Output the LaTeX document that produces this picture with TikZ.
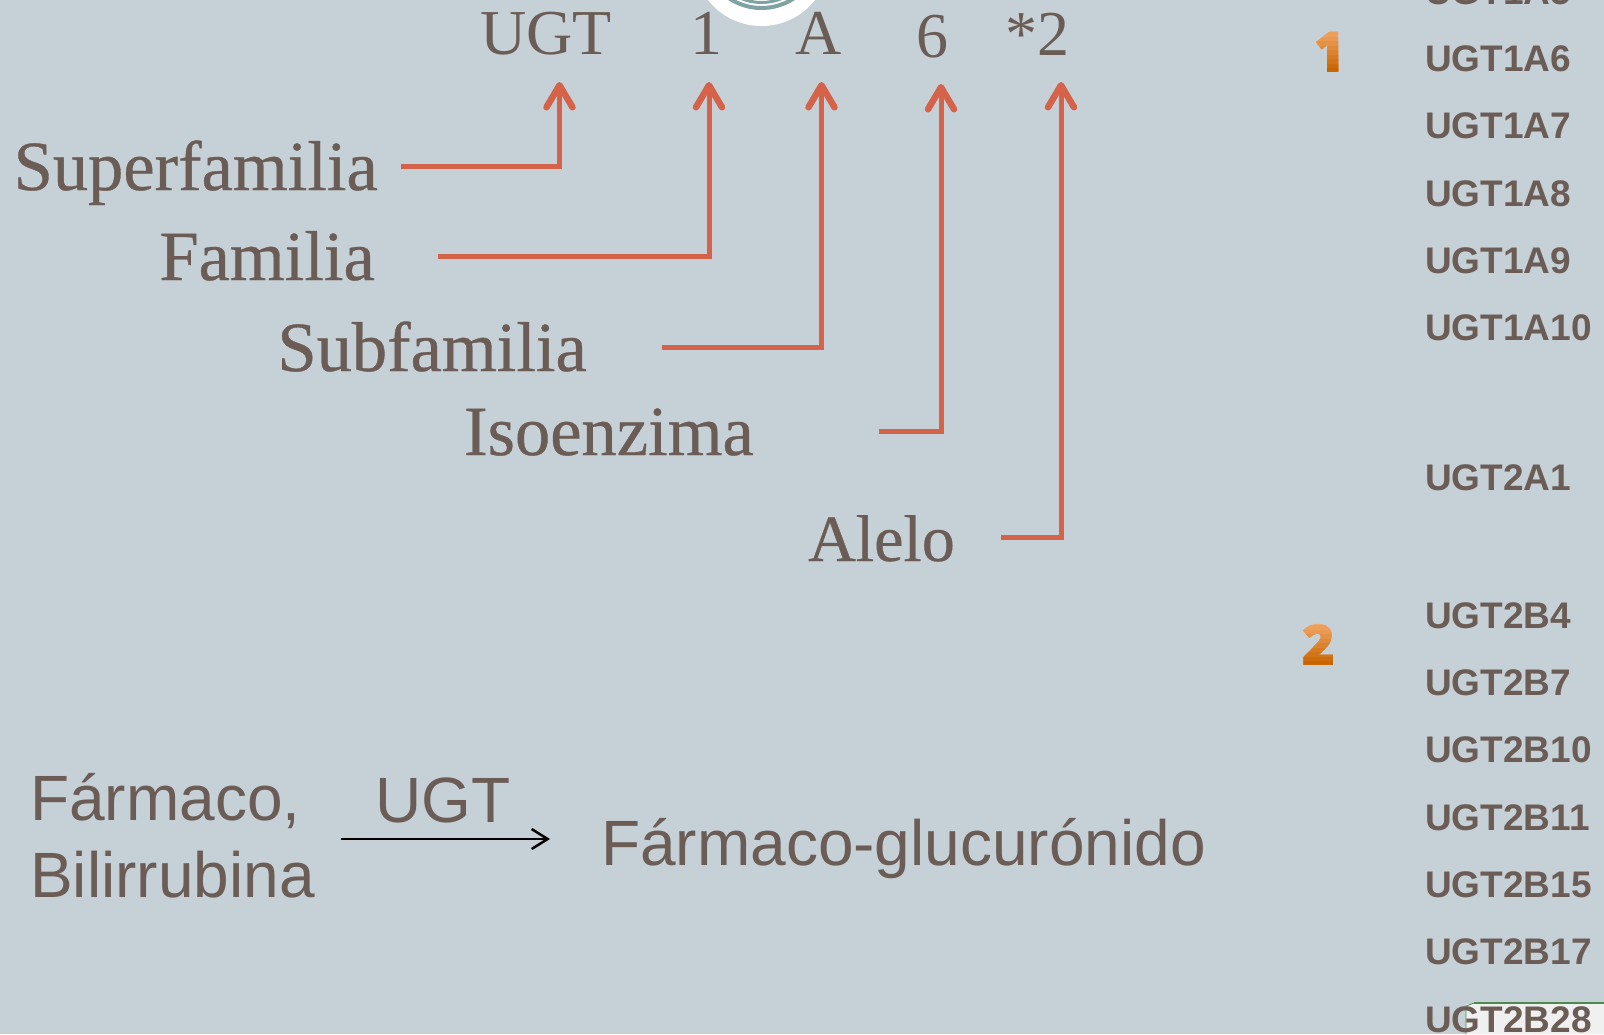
\documentclass[tikz,border=0pt]{standalone}
\usepackage{fontspec}
\setmainfont{Liberation Serif}
\setsansfont{Liberation Sans}
\newfontfamily\levelfont[FakeBold=0.5]{Liberation Serif}
\newfontfamily\digitfont[FakeBold=6]{Open Sans Bold}
\usetikzlibrary{arrows.meta}
\definecolor{panelbg}{HTML}{C5D0D7}
\definecolor{inkbrown}{HTML}{6B5D55}
\definecolor{linkred}{HTML}{D4634A}
\definecolor{logoteal}{HTML}{7FA3A3}
\definecolor{digittop}{HTML}{F2A868}
\definecolor{digitlow}{HTML}{C86400}
\def\rowx{1425}

\tikzset{
  token/.style={anchor=base,inner sep=0pt,text=inkbrown,font=\fontsize{64}{64}\selectfont},
  level/.style={anchor=east,inner sep=0pt,text height=48pt,text depth=0pt,text=inkbrown,font=\levelfont\fontsize{70.5}{70.5}\selectfont},
  link/.style={draw=linkred,line width=5pt,-{Straight Barb[length=22pt,width=26pt,round,line width=6.5pt]}},
  isoform/.style={anchor=base west,inner sep=0pt,text=inkbrown,font=\sffamily\bfseries\fontsize{37}{37}\selectfont},
  reaction/.style={inner sep=0pt,text=inkbrown,font=\sffamily\fontsize{64}{77}\selectfont},
  wordart/.style={anchor=base,inner sep=0pt,font=\digitfont\fontsize{52}{52}\selectfont},
}

\begin{document}
\begin{tikzpicture}[x=1pt,y=-1pt]
\useasboundingbox (0,0) rectangle (1604,1034);
\clip (0,0) rectangle (1604,1034);
\fill[panelbg] (0,0) rectangle (1604,1034);

%logo cut by the top edge
\fill[white] (761.5,-42) circle [radius=68];
\draw[logoteal,line width=4pt] (761.5,-51) circle [radius=59];
\draw[logoteal,line width=3pt] (761.5,-51) circle [radius=53.5];

%pale sheet in the corner
\fill[black!6] (1466,1034) |- (1475,1004) -- (1475,1002) -- (1604,1002) -- (1604,1034) -- cycle;
\draw[green!35!black!70!white,line width=0.8pt] (1466,1034) -- (1466,1006) -- (1474,1003);
\draw[green!35!black!70!white,line width=2.5pt] (1474,1003) -- (1604,1003);

%the name, piece by piece
\node[token] (ugt) at (546,54) {UGT};
\node[token] (one) at (706,54) {1};
\node[token] (subA) at (818.5,54) {A};
\node[token] (six) at (932,57) {6};
\node[token] (allele) at (1037,55.5) {*2};

\coordinate (ugttip) at (559.5,82);
\coordinate (onetip) at (709,82);
\coordinate (subAtip) at (821.5,82);
\coordinate (sixtip) at (941,84);
\coordinate (alleletip) at (1061,82);

%what each piece means
\node[level] (superfamilia) at (378,166) {Superfamilia};
\node[level] (familia) at (375,256) {Familia};
\node[level] (subfamilia) at (587,347) {Subfamilia};
\node[level] (isoenzima) at (754,431) {Isoenzima};
\node[level,font=\levelfont\fontsize{66}{66}\selectfont] (alelo) at (955,537) {Alelo};

\draw[link,shorten <=23pt] (superfamilia.east) -| (ugttip);
\draw[link,shorten <=63pt] (familia.east) -| (onetip);
\draw[link,shorten <=75pt] (subfamilia.east) -| (subAtip);
\draw[link,shorten <=125pt] (isoenzima.east) -| (sixtip);
\draw[link,shorten <=46pt] (alelo.east) -| (alleletip);

%right column
\foreach \y/\t in {4/UGT1A5,71/UGT1A6,138/UGT1A7,206/UGT1A8,273/UGT1A9,340/UGT1A10,490/UGT2A1,628/UGT2B4,695/UGT2B7,762/UGT2B10,830/UGT2B11,897/UGT2B15,964/UGT2B17,1032/UGT2B28}{
    \node[isoform] (\t) at (\rowx,\y) {\t};
}

%orange digits, top to bottom in bands
\foreach \b in {0,...,9}{
    \pgfmathsetmacro{\mixb}{\b*11}
    \begin{scope}
        \clip (1290,28+\b*4.5) rectangle (1360,80);
        \node[wordart,text=digitlow!\mixb!digittop] (digitone\b) at (1330,70) {1};
    \end{scope}
    \begin{scope}
        \clip (1290,621+\b*4.5) rectangle (1360,673);
        \node[wordart,text=digitlow!\mixb!digittop] (digittwo\b) at (1318,663) {2};
    \end{scope}
}

%reaction
\node[reaction,anchor=east,align=left] (farmaco) at (315,836) {Fármaco,\\Bilirrubina};
\node[reaction,anchor=west,text height=52pt,text depth=0pt] (glucuronido) at (601,839) {Fármaco-glucurónido};
\node[reaction,anchor=base] (enzyme) at (443,822) {UGT};
\draw[black,line width=2.5pt,-{Straight Barb[length=16pt,width=20pt]},shorten <=26pt,shorten >=51pt] ([yshift=-3pt]farmaco.east) -- (glucuronido.west);

\end{tikzpicture}
\end{document}
